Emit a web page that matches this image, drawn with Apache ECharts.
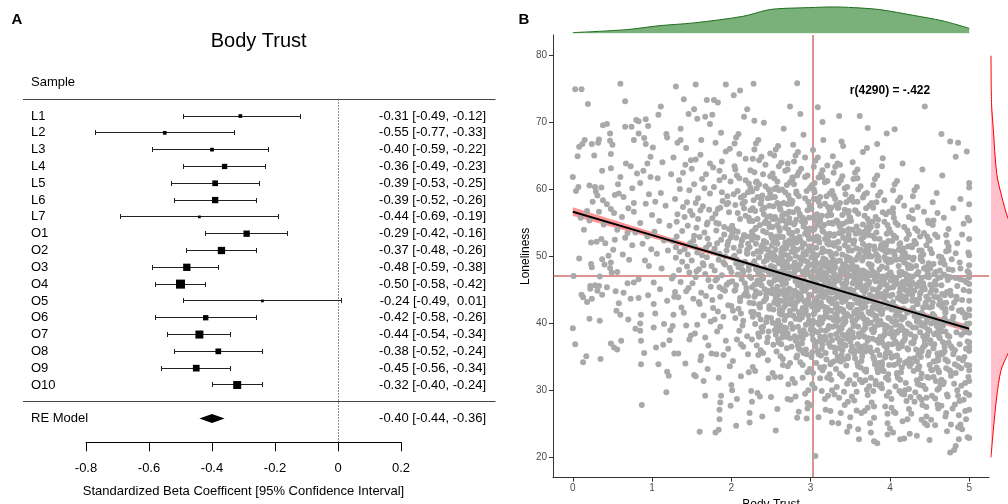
<!DOCTYPE html>
<html>
<head>
<meta charset="utf-8">
<title>Body Trust</title>
<script src="https://cdn.jsdelivr.net/npm/echarts@6/dist/echarts.min.js"></script>
<style>
  html, body { margin: 0; padding: 0; background: #fff; }
  #chart { width: 1008px; height: 504px; }
</style>
</head>
<body>
<div id="chart"></div>
<script>
// ===== A: forest plot =====
const studyNames = ['L1', 'L2', 'L3', 'L4', 'L5', 'L6', 'L7', 'O1', 'O2', 'O3', 'O4', 'O5', 'O6', 'O7', 'O8', 'O9', 'O10'];
const studyEst = [-0.31, -0.55, -0.40, -0.36, -0.39, -0.39, -0.44, -0.29, -0.37, -0.48, -0.50, -0.24, -0.42, -0.44, -0.38, -0.45, -0.32];
const studyLower = [-0.49, -0.77, -0.59, -0.49, -0.53, -0.52, -0.69, -0.42, -0.48, -0.59, -0.58, -0.49, -0.58, -0.54, -0.52, -0.56, -0.40];
const studyUpper = [-0.12, -0.33, -0.22, -0.23, -0.25, -0.26, -0.19, -0.16, -0.26, -0.38, -0.42, 0.01, -0.26, -0.34, -0.24, -0.34, -0.24];
const studyWeight = [2.75, 2.75, 2.75, 4.75, 5.25, 6.0, 1.5, 6.0, 7.25, 7.25, 9.4, 1.5, 4.75, 8.1, 5.25, 6.5, 8.1];
const reModel = [-0.40, -0.44, -0.36]; // estimate, lower, upper
const forestTicks = [-0.8, -0.6, -0.4, -0.2, 0, 0.2];

// ===== B: scatter with marginal densities =====
const trustTicks = [0, 1, 2, 3, 4, 5];
const lonelinessTicks = [20, 30, 40, 50, 60, 70, 80];
const fitTrust = [0, 1, 2, 3, 4, 5];
const fitLoneliness = [56.7, 53.2, 49.7, 46.2, 42.7, 39.2];
const fitLower = [56.05, 52.75, 49.4, 45.95, 42.35, 38.65];
const fitUpper = [57.35, 53.65, 50.0, 46.45, 43.05, 39.75];
const meanTrust = 3.03;
const meanLoneliness = 47.15;
const trustDensX = [0, 0.68, 1.10, 1.52, 2.15, 2.44, 2.61, 2.99, 3.28, 3.54, 3.87, 4.29, 4.67, 5.0];
const trustDens = [0.010, 0.055, 0.115, 0.155, 0.255, 0.345, 0.370, 0.385, 0.395, 0.385, 0.355, 0.270, 0.185, 0.075];
const lonelinessDensY = [20, 24, 29, 33, 35.5, 38, 42, 46, 50, 53, 55.7, 59, 62.4, 69, 73, 80];
const lonelinessDens = [0, 0.0023, 0.0057, 0.0100, 0.0170, 0.0250, 0.0340, 0.0380, 0.0350, 0.0260, 0.0170, 0.0107, 0.0057, 0.0023, 0.0005, 0];

// body trust, loneliness (pairs; dense middle is thinned)
const trustLoneliness = [
  0.03,75.0, 0.11,75.0, 0.19,72.8, 0.00,61.9, 0.04,59.8, 0.06,65.0, 0.08,66.4, 0.12,66.8, 0.15,67.4, 0.24,66.8,
  0.27,65.1, 0.32,67.0, 0.33,67.5, 0.38,69.6, 0.43,69.8, 0.47,68.4, 0.47,67.3, 0.50,66.7, 0.48,65.3, 0.60,75.8,
  0.66,73.2, 0.66,69.4, 0.74,69.4, 0.80,70.4, 0.83,70.2, 0.92,70.5, 0.95,69.5, 0.77,67.4, 0.83,68.4, 0.90,67.7,
  0.92,66.8, 0.98,64.9, 0.37,62.8, 0.36,60.3, 0.28,60.4, 0.21,60.6, 0.38,58.4, 0.48,57.1, 0.57,60.8, 0.58,59.4,
  0.64,58.9, 0.75,60.2, 0.77,58.0, 0.85,61.0, 0.89,62.8, 0.94,63.9, 0.98,61.9, 0.81,62.4, 0.73,63.5, 0.67,63.9,
  0.60,61.9, 0.48,63.2, 0.25,58.2, 0.18,56.8, 0.10,55.8, 0.21,55.4, 0.14,54.0, 0.33,56.7, 0.39,54.8, 0.52,56.5,
  0.62,55.9, 0.56,54.0, 0.69,53.5, 0.77,56.7, 0.85,55.0, 1.00,56.2, 1.04,58.2, 1.11,59.5, 1.11,72.4, 1.08,71.2,
  1.18,68.3, 1.19,67.8,
  0.00,39.3, 0.03,36.9, 0.13,34.2, 0.17,35.1, 0.35,34.7, 0.34,40.4, 0.21,40.7, 0.13,43.9, 0.18,43.2, 0.22,45.2,
  0.24,43.7, 0.31,44.9, 0.33,45.6, 0.37,44.3, 0.43,45.4, 0.34,47.0, 0.24,48.4, 0.01,47.1, 0.48,49.1, 0.49,47.6,
  0.56,47.7, 0.54,44.8, 0.55,41.9, 0.58,43.0, 0.60,41.3, 0.48,37.0, 0.52,36.4, 0.56,36.1, 0.61,37.4, 0.73,43.7,
  0.77,46.1, 0.83,46.6, 0.83,43.8, 0.86,41.3, 0.85,40.0, 0.85,38.9, 0.86,37.4, 0.86,33.9, 0.87,27.8, 0.96,48.6,
  1.02,46.1, 1.02,42.9, 1.02,39.4, 1.04,41.5, 1.08,33.9, 1.14,36.8, 1.15,39.9, 1.19,32.8, 1.18,29.7, 1.21,32.2,
  1.23,39.0, 1.27,41.3, 1.28,44.0, 1.25,46.7, 1.28,35.5, 1.33,35.5, 1.42,34.0, 1.43,39.7, 1.47,37.6,
  0.07,60.4, 0.29,59.7, 0.31,59.1, 0.43,57.8, 0.53,59.2, 0.08,49.7, 0.23,52.1, 0.30,52.2, 0.36,52.6, 0.41,52.0,
  0.53,52.5, 0.51,51.0, 0.45,50.1, 0.37,49.6, 0.23,48.9, 0.40,48.8, 0.47,48.3, 0.22,45.6, 0.28,45.7, 0.11,44.3,
  0.63,50.3, 0.66,52.8, 0.71,49.5, 0.75,51.7, 0.79,53.6, 0.88,51.9, 0.91,49.4, 0.94,53.0, 0.99,51.1, 1.03,53.7,
  1.06,50.4, 1.09,55.3, 1.12,48.2, 1.15,52.4, 1.17,57.6, 1.20,50.9, 1.22,54.6, 1.24,62.3, 1.13,64.1, 1.07,61.7,
  1.01,66.3, 0.96,59.3, 0.70,57.2, 0.92,57.9, 0.69,46.0, 0.64,44.6, 0.95,44.2, 1.10,45.1, 1.19,43.4, 0.90,35.6,
  1.05,36.4, 1.22,37.5, 0.79,39.2, 0.70,40.6,
  1.30,75.4, 1.40,73.5, 1.46,71.3, 1.53,72.0, 1.55,75.7, 1.69,73.4, 1.67,70.9, 1.78,73.4, 1.93,75.7, 2.11,74.8,
  2.03,74.1, 2.28,75.8, 2.20,72.0, 2.29,70.3, 2.83,75.9, 2.74,72.4, 2.87,71.3, 3.09,72.3, 3.15,70.1, 3.36,71.0,
  3.62,71.0, 3.72,69.2, 4.06,69.0, 3.96,68.4, 4.44,72.4, 4.65,68.3, 4.76,67.2, 4.86,67.0, 4.83,64.9, 4.97,65.7,
  3.84,66.8, 3.71,66.2, 3.39,67.2, 1.32,67.0, 1.36,67.4,
  1.53,32.3, 1.55,32.1, 1.61,34.5, 1.60,23.8, 1.65,31.4, 1.67,29.2, 1.70,33.2, 1.75,35.5, 1.81,35.4, 1.80,23.7,
  1.84,24.1, 1.85,25.7, 1.85,27.1, 1.86,28.2, 1.87,29.2, 1.99,27.7, 2.01,30.0, 2.06,24.7, 2.07,28.7, 2.12,32.1,
  2.23,26.6, 2.23,25.2, 2.26,28.3, 2.33,29.6, 2.36,29.1, 2.39,26.1, 2.56,24.0, 2.58,27.2, 2.71,28.7, 2.83,25.9,
  2.95,25.8, 2.96,28.1, 2.96,27.3, 3.06,20.2, 3.19,27.1, 3.27,25.2, 3.38,26.6, 3.46,23.8, 3.49,24.6, 3.61,22.7,
  3.76,23.7, 3.80,22.4, 3.84,22.1, 3.97,25.1, 4.04,23.7, 4.13,22.7, 4.18,22.8, 4.34,23.2, 4.44,25.1, 4.46,26.1,
  4.76,20.7, 4.81,21.1, 4.83,21.7, 4.87,22.7, 4.91,24.2, 4.98,23.0, 4.89,24.9, 4.77,24.9,
  1.26,52.3, 1.27,47.1, 1.29,58.6, 1.30,49.8, 1.31,55.2, 1.33,43.9, 1.34,61.4, 1.35,50.7, 1.36,46.2, 1.38,53.8,
  1.39,57.4, 1.40,41.6, 1.41,51.1, 1.42,63.7, 1.44,48.5, 1.45,54.6, 1.46,45.3, 1.47,59.9, 1.48,52.0, 1.49,38.2,
  1.27,64.8, 1.29,44.7, 1.32,56.3, 1.35,60.1, 1.37,42.4, 1.38,49.2, 1.41,55.9, 1.43,66.2, 1.45,50.3, 1.47,47.6,
  1.26,39.6, 1.31,53.0, 1.34,48.0, 1.39,62.5, 1.43,44.8, 1.48,56.8, 1.36,69.1, 1.44,58.1, 1.30,51.4, 1.49,64.4,
  1.50,49.4, 1.51,56.2, 1.52,43.7, 1.53,60.8, 1.54,51.5, 1.55,46.9, 1.56,54.3, 1.57,39.8, 1.58,58.7, 1.59,48.1,
  1.60,52.9, 1.61,65.2, 1.62,44.6, 1.63,50.2, 1.64,57.5, 1.65,41.2, 1.66,53.6, 1.67,47.4, 1.68,62.3, 1.69,49.9,
  1.70,55.1, 1.71,36.7, 1.72,51.8, 1.73,59.4, 1.74,45.5, 1.50,63.1, 1.52,52.4, 1.54,38.5, 1.56,47.8, 1.58,55.6,
  1.60,42.9, 1.62,67.4, 1.64,49.0, 1.66,60.2, 1.68,44.1, 1.70,52.7, 1.72,57.0, 1.74,40.3, 1.51,46.0, 1.53,53.1,
  1.55,64.5, 1.57,50.6, 1.59,43.2, 1.61,56.9, 1.63,61.6, 1.65,48.7, 1.67,37.9, 1.69,54.8, 1.71,46.5, 1.73,69.8,
  1.55,58.0, 1.62,35.1, 1.68,51.3, 1.73,63.9, 1.57,70.6,
  1.75,48.6, 1.76,55.7, 1.77,42.3, 1.78,60.4, 1.79,51.2, 1.80,46.4, 1.81,53.9, 1.82,38.8, 1.83,57.1, 1.84,49.5,
  1.85,62.8, 1.86,44.0, 1.87,52.5, 1.88,47.2, 1.89,58.3, 1.90,41.0, 1.91,54.4, 1.92,50.0, 1.93,65.7, 1.94,45.8,
  1.95,51.7, 1.96,36.2, 1.97,56.6, 1.98,48.3, 1.99,61.2, 1.76,43.5, 1.78,50.8, 1.80,67.0, 1.82,46.7, 1.84,54.9,
  1.86,39.5, 1.88,59.6, 1.90,49.1, 1.92,44.9, 1.94,57.8, 1.96,52.2, 1.98,33.6, 1.77,63.3, 1.79,47.9, 1.81,55.0,
  1.83,41.8, 1.85,50.4, 1.87,68.5, 1.89,45.1, 1.91,53.3, 1.93,37.4, 1.95,59.0, 1.97,46.1, 1.99,52.8, 1.80,56.4,
  1.84,31.9, 1.88,64.2, 1.92,48.8, 1.96,42.7, 1.76,71.2, 1.82,52.0, 1.86,57.3, 1.90,35.3, 1.94,50.9, 1.98,66.1,
  1.79,40.6, 1.85,45.4, 1.91,61.9, 1.97,54.1, 1.83,73.0,
  2.00,47.7, 2.01,54.6, 2.02,41.9, 2.03,59.3, 2.04,50.1, 2.05,45.0, 2.06,52.8, 2.07,37.6, 2.08,56.5, 2.09,48.4,
  2.10,61.7, 2.11,43.3, 2.12,51.6, 2.13,46.6, 2.14,57.9, 2.15,40.4, 2.16,53.2, 2.17,49.2, 2.18,64.6, 2.19,44.7,
  2.20,50.6, 2.21,35.4, 2.22,55.8, 2.23,47.0, 2.24,60.3, 2.00,42.6, 2.02,49.8, 2.04,66.9, 2.06,45.7, 2.08,53.7,
  2.10,38.9, 2.12,58.8, 2.14,48.0, 2.16,44.2, 2.18,56.1, 2.20,51.0, 2.22,32.7, 2.24,62.9, 2.01,46.3, 2.03,54.0,
  2.05,40.8, 2.07,49.5, 2.09,68.3, 2.11,43.8, 2.13,52.3, 2.15,36.5, 2.17,58.2, 2.19,45.3, 2.21,51.9, 2.23,55.3,
  2.00,30.8, 2.04,63.5, 2.08,47.3, 2.12,41.5, 2.16,70.9, 2.20,50.4, 2.24,56.9, 2.02,34.4, 2.06,49.0, 2.10,65.3,
  2.14,39.7, 2.18,44.5, 2.22,60.9, 2.01,53.4, 2.05,57.7, 2.09,42.2, 2.13,48.9, 2.17,46.0, 2.21,59.6, 2.03,51.3,
  2.07,62.1, 2.11,55.6, 2.15,47.6, 2.19,53.0, 2.23,43.1, 2.06,67.8, 2.14,52.6, 2.20,38.1, 2.10,50.8, 2.18,61.4,
  2.04,44.9, 2.12,36.9, 2.22,48.6, 2.16,57.2, 2.08,59.8,
  2.25,46.8, 2.26,53.7, 2.27,41.0, 2.28,58.4, 2.29,49.3, 2.30,44.2, 2.31,51.9, 2.32,36.7, 2.33,55.6, 2.34,47.5,
  2.35,60.8, 2.36,42.4, 2.37,50.7, 2.38,45.7, 2.39,57.0, 2.40,39.5, 2.41,52.3, 2.42,48.3, 2.43,63.7, 2.44,43.8,
  2.45,49.7, 2.46,34.5, 2.47,54.9, 2.48,46.1, 2.49,59.4, 2.25,41.7, 2.27,48.9, 2.29,66.0, 2.31,44.8, 2.33,52.8,
  2.35,38.0, 2.37,57.9, 2.39,47.1, 2.41,43.3, 2.43,55.2, 2.45,50.1, 2.47,31.8, 2.49,62.0, 2.26,45.4, 2.28,53.1,
  2.30,39.9, 2.32,48.6, 2.34,67.4, 2.36,42.9, 2.38,51.4, 2.40,35.6, 2.42,57.3, 2.44,44.4, 2.46,51.0, 2.48,54.4,
  2.25,29.9, 2.29,62.6, 2.33,46.4, 2.37,40.6, 2.41,70.0, 2.45,49.5, 2.49,56.0, 2.27,33.5, 2.31,48.1, 2.35,64.4,
  2.39,38.8, 2.43,43.6, 2.47,60.0, 2.26,52.5, 2.30,56.8, 2.34,41.3, 2.38,48.0, 2.42,45.1, 2.46,58.7, 2.28,50.4,
  2.32,61.2, 2.36,54.7, 2.40,46.7, 2.44,52.1, 2.48,42.2, 2.31,66.9, 2.39,51.7, 2.45,37.2, 2.35,49.9, 2.43,60.5,
  2.29,44.0, 2.37,36.0, 2.47,47.7, 2.41,56.3, 2.33,58.9, 2.27,55.3, 2.34,38.5, 2.40,53.8, 2.46,44.9, 2.49,50.6,
  2.26,59.7, 2.32,45.9, 2.38,64.9, 2.44,40.2, 2.48,57.6, 2.30,32.9, 2.36,47.9, 2.42,51.2, 2.28,43.0, 2.45,55.9,
  2.50,45.9, 2.51,52.8, 2.52,40.1, 2.53,57.5, 2.54,48.4, 2.55,43.3, 2.56,51.0, 2.57,35.8, 2.58,54.7, 2.59,46.6,
  2.60,59.9, 2.61,41.5, 2.62,49.8, 2.63,44.8, 2.64,56.1, 2.65,38.6, 2.66,51.4, 2.67,47.4, 2.68,62.8, 2.69,42.9,
  2.70,48.8, 2.71,33.6, 2.72,54.0, 2.73,45.2, 2.74,58.5, 2.50,40.8, 2.52,48.0, 2.54,65.1, 2.56,43.9, 2.58,51.9,
  2.60,37.1, 2.62,57.0, 2.64,46.2, 2.66,42.4, 2.68,54.3, 2.70,49.2, 2.72,30.9, 2.74,61.1, 2.51,44.5, 2.53,52.2,
  2.55,39.0, 2.57,47.7, 2.59,66.5, 2.61,42.0, 2.63,50.5, 2.65,34.7, 2.67,56.4, 2.69,43.5, 2.71,50.1, 2.73,53.5,
  2.50,29.0, 2.54,61.7, 2.58,45.5, 2.62,39.7, 2.66,69.1, 2.70,48.6, 2.74,55.1, 2.52,32.6, 2.56,47.2, 2.60,63.5,
  2.64,37.9, 2.68,42.7, 2.72,59.1, 2.51,51.6, 2.55,55.9, 2.59,40.4, 2.63,47.1, 2.67,44.2, 2.71,57.8, 2.53,49.5,
  2.57,60.3, 2.61,53.8, 2.65,45.8, 2.69,51.2, 2.73,41.3, 2.56,66.0, 2.64,50.8, 2.70,36.3, 2.60,49.0, 2.68,59.6,
  2.54,43.1, 2.62,35.1, 2.72,46.8, 2.66,55.4, 2.58,58.0, 2.52,54.4, 2.59,37.6, 2.65,52.9, 2.71,44.0, 2.74,49.7,
  2.51,58.8, 2.57,45.0, 2.63,64.0, 2.69,39.3, 2.73,56.7, 2.55,32.0, 2.61,47.0, 2.67,50.3, 2.53,42.1, 2.70,55.0,
  2.50,53.2, 2.56,38.3, 2.62,44.6, 2.68,48.2, 2.74,34.1, 2.52,62.4, 2.58,49.4, 2.64,41.8, 2.70,60.7, 2.66,46.5,
  2.55,50.0, 2.61,57.3, 2.67,39.4, 2.73,52.4, 2.59,44.3, 2.65,48.5, 2.71,63.0, 2.57,53.0, 2.63,36.9, 2.69,46.0,
  2.75,45.0, 2.76,51.9, 2.77,39.2, 2.78,56.6, 2.79,47.5, 2.80,42.4, 2.81,50.1, 2.82,34.9, 2.83,53.8, 2.84,45.7,
  2.85,59.0, 2.86,40.6, 2.87,48.9, 2.88,43.9, 2.89,55.2, 2.90,37.7, 2.91,50.5, 2.92,46.5, 2.93,61.9, 2.94,42.0,
  2.95,47.9, 2.96,32.7, 2.97,53.1, 2.98,44.3, 2.99,57.6, 2.75,39.9, 2.77,47.1, 2.79,64.2, 2.81,43.0, 2.83,51.0,
  2.85,36.2, 2.87,56.1, 2.89,45.3, 2.91,41.5, 2.93,53.4, 2.95,48.3, 2.97,30.0, 2.99,60.2, 2.76,43.6, 2.78,51.3,
  2.80,38.1, 2.82,46.8, 2.84,65.6, 2.86,41.1, 2.88,49.6, 2.90,33.8, 2.92,55.5, 2.94,42.6, 2.96,49.2, 2.98,52.6,
  2.75,28.6, 2.79,60.8, 2.83,44.6, 2.87,38.8, 2.91,68.2, 2.95,47.7, 2.99,54.2, 2.77,31.7, 2.81,46.3, 2.85,62.6,
  2.89,37.0, 2.93,41.8, 2.97,58.2, 2.76,50.7, 2.80,55.0, 2.84,39.5, 2.88,46.2, 2.92,43.3, 2.96,56.9, 2.78,48.6,
  2.82,59.4, 2.86,52.9, 2.90,44.9, 2.94,50.3, 2.98,40.4, 2.81,65.1, 2.89,49.9, 2.95,35.4, 2.85,48.1, 2.93,58.7,
  2.79,42.2, 2.87,34.2, 2.97,45.9, 2.91,54.5, 2.83,57.1, 2.77,53.5, 2.84,36.7, 2.90,52.0, 2.96,43.1, 2.99,48.8,
  2.76,57.9, 2.82,44.1, 2.88,63.1, 2.94,38.4, 2.98,55.8, 2.80,31.1, 2.86,46.1, 2.92,49.4, 2.78,41.2, 2.95,54.1,
  2.75,52.3, 2.81,37.4, 2.87,43.7, 2.93,47.3, 2.99,33.2, 2.77,61.5, 2.83,48.5, 2.89,40.9, 2.95,59.8, 2.91,45.6,
  2.80,49.1, 2.86,56.4, 2.92,38.5, 2.98,51.5, 2.84,43.4, 2.90,47.6, 2.96,62.1, 2.82,52.1, 2.88,36.0, 2.94,45.1,
  2.78,66.7, 2.85,26.8, 2.97,40.0, 2.79,54.8, 2.93,29.5,
  3.00,44.2, 3.01,51.1, 3.02,38.4, 3.03,55.8, 3.04,46.7, 3.05,41.6, 3.06,49.3, 3.07,34.1, 3.08,53.0, 3.09,44.9,
  3.10,58.2, 3.11,39.8, 3.12,48.1, 3.13,43.1, 3.14,54.4, 3.15,36.9, 3.16,49.7, 3.17,45.7, 3.18,61.1, 3.19,41.2,
  3.20,47.1, 3.21,31.9, 3.22,52.3, 3.23,43.5, 3.24,56.8, 3.00,39.1, 3.02,46.3, 3.04,63.4, 3.06,42.2, 3.08,50.2,
  3.10,35.4, 3.12,55.3, 3.14,44.5, 3.16,40.7, 3.18,52.6, 3.20,47.5, 3.22,29.2, 3.24,59.4, 3.01,42.8, 3.03,50.5,
  3.05,37.3, 3.07,46.0, 3.09,64.8, 3.11,40.3, 3.13,48.8, 3.15,33.0, 3.17,54.7, 3.19,41.8, 3.21,48.4, 3.23,51.8,
  3.00,27.8, 3.04,60.0, 3.08,43.8, 3.12,38.0, 3.16,67.4, 3.20,46.9, 3.24,53.4, 3.02,30.9, 3.06,45.5, 3.10,61.8,
  3.14,36.2, 3.18,41.0, 3.22,57.4, 3.01,49.9, 3.05,54.2, 3.09,38.7, 3.13,45.4, 3.17,42.5, 3.21,56.1, 3.03,47.8,
  3.07,58.6, 3.11,52.1, 3.15,44.1, 3.19,49.5, 3.23,39.6, 3.06,64.3, 3.14,49.1, 3.20,34.6, 3.10,47.3, 3.18,57.9,
  3.04,41.4, 3.12,33.4, 3.22,45.1, 3.16,53.7, 3.08,56.3, 3.02,52.7, 3.09,35.9, 3.15,51.2, 3.21,42.3, 3.24,48.0,
  3.01,57.1, 3.07,43.3, 3.13,62.3, 3.19,37.6, 3.23,55.0, 3.05,30.3, 3.11,45.3, 3.17,48.6, 3.03,40.4, 3.20,53.3,
  3.00,51.5, 3.06,36.6, 3.12,42.9, 3.18,46.5, 3.24,32.4, 3.02,60.7, 3.08,47.7, 3.14,40.1, 3.20,59.0, 3.16,44.8,
  3.05,48.3, 3.11,55.6, 3.17,37.7, 3.23,50.7, 3.09,42.6, 3.15,46.8, 3.21,61.3, 3.07,51.3, 3.13,35.2, 3.19,44.3,
  3.03,65.9, 3.10,26.0, 3.22,39.2, 3.04,54.0, 3.18,28.7, 3.01,35.0, 3.12,58.9, 3.24,43.7, 3.06,50.0, 3.15,62.9,
  3.25,43.3, 3.26,50.2, 3.27,37.5, 3.28,54.9, 3.29,45.8, 3.30,40.7, 3.31,48.4, 3.32,33.2, 3.33,52.1, 3.34,44.0,
  3.35,57.3, 3.36,38.9, 3.37,47.2, 3.38,42.2, 3.39,53.5, 3.40,36.0, 3.41,48.8, 3.42,44.8, 3.43,60.2, 3.44,40.3,
  3.45,46.2, 3.46,31.0, 3.47,51.4, 3.48,42.6, 3.49,55.9, 3.25,38.2, 3.27,45.4, 3.29,62.5, 3.31,41.3, 3.33,49.3,
  3.35,34.5, 3.37,54.4, 3.39,43.6, 3.41,39.8, 3.43,51.7, 3.45,46.6, 3.47,28.3, 3.49,58.5, 3.26,41.9, 3.28,49.6,
  3.30,36.4, 3.32,45.1, 3.34,63.9, 3.36,39.4, 3.38,47.9, 3.40,32.1, 3.42,53.8, 3.44,40.9, 3.46,47.5, 3.48,50.9,
  3.25,26.9, 3.29,59.1, 3.33,42.9, 3.37,37.1, 3.41,66.5, 3.45,46.0, 3.49,52.5, 3.27,30.0, 3.31,44.6, 3.35,60.9,
  3.39,35.3, 3.43,40.1, 3.47,56.5, 3.26,49.0, 3.30,53.3, 3.34,37.8, 3.38,44.5, 3.42,41.6, 3.46,55.2, 3.28,46.9,
  3.32,57.7, 3.36,51.2, 3.40,43.2, 3.44,48.6, 3.48,38.7, 3.31,63.4, 3.39,48.2, 3.45,33.7, 3.35,46.4, 3.43,57.0,
  3.29,40.5, 3.37,32.5, 3.47,44.2, 3.41,52.8, 3.33,55.4, 3.27,51.8, 3.34,35.0, 3.40,50.3, 3.46,41.4, 3.49,47.1,
  3.26,56.2, 3.32,42.4, 3.38,61.4, 3.44,36.7, 3.48,54.1, 3.30,29.4, 3.36,44.4, 3.42,47.7, 3.28,39.5, 3.45,52.4,
  3.25,50.6, 3.31,35.7, 3.37,42.0, 3.43,45.6, 3.49,31.5, 3.27,59.8, 3.33,46.8, 3.39,39.2, 3.45,58.1, 3.41,43.9,
  3.30,47.4, 3.36,54.7, 3.42,36.8, 3.48,49.8, 3.34,41.7, 3.40,45.9, 3.46,60.4, 3.32,50.4, 3.38,34.3, 3.44,43.4,
  3.28,65.0, 3.35,25.1, 3.47,38.3, 3.29,53.1, 3.43,27.8, 3.26,34.1, 3.37,58.0, 3.49,42.8, 3.31,49.1, 3.40,62.0,
  3.50,42.4, 3.51,49.3, 3.52,36.6, 3.53,54.0, 3.54,44.9, 3.55,39.8, 3.56,47.5, 3.57,32.3, 3.58,51.2, 3.59,43.1,
  3.60,56.4, 3.61,38.0, 3.62,46.3, 3.63,41.3, 3.64,52.6, 3.65,35.1, 3.66,47.9, 3.67,43.9, 3.68,59.3, 3.69,39.4,
  3.70,45.3, 3.71,30.1, 3.72,50.5, 3.73,41.7, 3.74,55.0, 3.50,37.3, 3.52,44.5, 3.54,61.6, 3.56,40.4, 3.58,48.4,
  3.60,33.6, 3.62,53.5, 3.64,42.7, 3.66,38.9, 3.68,50.8, 3.70,45.7, 3.72,27.4, 3.74,57.6, 3.51,41.0, 3.53,48.7,
  3.55,35.5, 3.57,44.2, 3.59,63.0, 3.61,38.5, 3.63,47.0, 3.65,31.2, 3.67,52.9, 3.69,40.0, 3.71,46.6, 3.73,50.0,
  3.50,26.0, 3.54,58.2, 3.58,42.0, 3.62,36.2, 3.66,65.6, 3.70,45.1, 3.74,51.6, 3.52,29.1, 3.56,43.7, 3.60,60.0,
  3.64,34.4, 3.68,39.2, 3.72,55.6, 3.51,48.1, 3.55,52.4, 3.59,36.9, 3.63,43.6, 3.67,40.7, 3.71,54.3, 3.53,46.0,
  3.57,56.8, 3.61,50.3, 3.65,42.3, 3.69,47.7, 3.73,37.8, 3.56,62.5, 3.64,47.3, 3.70,32.8, 3.60,45.5, 3.68,56.1,
  3.54,39.6, 3.62,31.6, 3.72,43.3, 3.66,51.9, 3.58,54.5, 3.52,50.9, 3.59,34.1, 3.65,49.4, 3.71,40.5, 3.74,46.2,
  3.51,55.3, 3.57,41.5, 3.63,60.5, 3.69,35.8, 3.73,53.2, 3.55,28.5, 3.61,43.5, 3.67,46.8, 3.53,38.6, 3.70,51.5,
  3.50,49.7, 3.56,34.8, 3.62,41.1, 3.68,44.7, 3.74,30.6, 3.52,58.9, 3.58,45.9, 3.64,38.3, 3.70,57.2, 3.66,43.0,
  3.55,46.5, 3.61,53.8, 3.67,35.9, 3.73,48.9, 3.59,40.8, 3.65,45.0, 3.71,59.5, 3.57,49.5, 3.63,33.4, 3.69,42.5,
  3.53,64.1, 3.60,24.2, 3.72,37.4, 3.54,52.2, 3.68,26.9,
  3.75,41.5, 3.76,48.4, 3.77,35.7, 3.78,53.1, 3.79,44.0, 3.80,38.9, 3.81,46.6, 3.82,31.4, 3.83,50.3, 3.84,42.2,
  3.85,55.5, 3.86,37.1, 3.87,45.4, 3.88,40.4, 3.89,51.7, 3.90,34.2, 3.91,47.0, 3.92,43.0, 3.93,58.4, 3.94,38.5,
  3.95,44.4, 3.96,29.2, 3.97,49.6, 3.98,40.8, 3.99,54.1, 3.75,36.4, 3.77,43.6, 3.79,60.7, 3.81,39.5, 3.83,47.5,
  3.85,32.7, 3.87,52.6, 3.89,41.8, 3.91,38.0, 3.93,49.9, 3.95,44.8, 3.97,26.5, 3.99,56.7, 3.76,40.1, 3.78,47.8,
  3.80,34.6, 3.82,43.3, 3.84,62.1, 3.86,37.6, 3.88,46.1, 3.90,30.3, 3.92,52.0, 3.94,39.1, 3.96,45.7, 3.98,49.1,
  3.75,25.1, 3.79,57.3, 3.83,41.1, 3.87,35.3, 3.91,64.7, 3.95,44.2, 3.99,50.7, 3.77,28.2, 3.81,42.8, 3.85,59.1,
  3.89,33.5, 3.93,38.3, 3.97,54.7, 3.76,47.2, 3.80,51.5, 3.84,36.0, 3.88,42.7, 3.92,39.8, 3.96,53.4, 3.78,45.1,
  3.82,55.9, 3.86,49.4, 3.90,41.4, 3.94,46.8, 3.98,36.9, 3.81,61.6, 3.89,46.4, 3.95,31.9, 3.85,44.6, 3.93,55.2,
  3.79,38.7, 3.87,30.7, 3.97,42.4, 3.91,51.0, 3.83,53.6, 3.77,50.0, 3.84,33.2, 3.90,48.5, 3.96,39.6, 3.99,45.3,
  3.76,54.4, 3.82,40.6, 3.88,59.6, 3.94,34.9, 3.98,52.3, 3.80,27.6, 3.86,42.6, 3.92,45.9, 3.78,37.7, 3.95,50.6,
  3.75,48.8, 3.81,33.9, 3.87,40.2, 3.93,43.8, 3.99,29.7, 3.77,58.0, 3.83,45.0, 3.89,37.4, 3.95,56.3, 3.91,42.1,
  3.85,47.1, 3.90,63.5, 3.97,23.4, 3.79,29.9, 3.88,51.2,
  4.00,40.7, 4.01,47.6, 4.02,34.9, 4.03,52.3, 4.04,43.2, 4.05,38.1, 4.06,45.8, 4.07,30.6, 4.08,49.5, 4.09,41.4,
  4.10,54.7, 4.11,36.3, 4.12,44.6, 4.13,39.6, 4.14,50.9, 4.15,33.4, 4.16,46.2, 4.17,42.2, 4.18,57.6, 4.19,37.7,
  4.20,43.6, 4.21,28.4, 4.22,48.8, 4.23,40.0, 4.24,53.3, 4.00,35.6, 4.02,42.8, 4.04,59.9, 4.06,38.7, 4.08,46.7,
  4.10,31.9, 4.12,51.8, 4.14,41.0, 4.16,37.2, 4.18,49.1, 4.20,44.0, 4.22,25.7, 4.24,55.9, 4.01,39.3, 4.03,47.0,
  4.05,33.8, 4.07,42.5, 4.09,61.3, 4.11,36.8, 4.13,45.3, 4.15,29.5, 4.17,51.2, 4.19,38.3, 4.21,44.9, 4.23,48.3,
  4.00,24.3, 4.04,56.5, 4.08,40.3, 4.12,34.5, 4.16,63.9, 4.20,43.4, 4.24,49.9, 4.02,27.4, 4.06,42.0, 4.10,58.3,
  4.14,32.7, 4.18,37.5, 4.22,53.9, 4.01,46.4, 4.05,50.7, 4.09,35.2, 4.13,41.9, 4.17,39.0, 4.21,52.6, 4.03,44.3,
  4.07,55.1, 4.11,48.6, 4.15,40.6, 4.19,46.0, 4.23,36.1, 4.06,60.8, 4.14,45.6, 4.20,31.1, 4.10,43.8, 4.18,54.4,
  4.04,37.9, 4.12,29.9, 4.22,41.6, 4.16,50.2, 4.08,52.8, 4.02,49.2, 4.09,32.4, 4.15,47.7, 4.21,38.8, 4.24,44.5,
  4.01,53.6, 4.07,39.8, 4.13,58.8, 4.19,34.1, 4.23,51.5, 4.05,26.8, 4.11,41.8, 4.17,45.1, 4.03,36.9, 4.20,49.8,
  4.25,39.8, 4.26,46.7, 4.27,34.0, 4.28,51.4, 4.29,42.3, 4.30,37.2, 4.31,44.9, 4.32,29.7, 4.33,48.6, 4.34,40.5,
  4.35,53.8, 4.36,35.4, 4.37,43.7, 4.38,38.7, 4.39,50.0, 4.40,32.5, 4.41,45.3, 4.42,41.3, 4.43,56.7, 4.44,36.8,
  4.45,42.7, 4.46,27.5, 4.47,47.9, 4.48,39.1, 4.49,52.4, 4.25,34.7, 4.27,41.9, 4.29,59.0, 4.31,37.8, 4.33,45.8,
  4.35,31.0, 4.37,50.9, 4.39,40.1, 4.41,36.3, 4.43,48.2, 4.45,43.1, 4.47,24.8, 4.49,55.0, 4.26,38.4, 4.28,46.1,
  4.30,32.9, 4.32,41.6, 4.34,60.4, 4.36,35.9, 4.38,44.4, 4.40,28.6, 4.42,50.3, 4.44,37.4, 4.46,44.0, 4.48,47.4,
  4.25,23.5, 4.29,55.6, 4.33,39.4, 4.37,33.6, 4.41,63.0, 4.45,42.5, 4.49,49.0, 4.27,26.5, 4.31,41.1, 4.35,57.4,
  4.39,31.8, 4.43,36.6, 4.47,53.0, 4.26,45.5, 4.30,49.8, 4.34,34.3, 4.38,41.0, 4.42,38.1, 4.46,51.7, 4.28,43.4,
  4.32,54.2, 4.36,47.7, 4.40,39.7, 4.44,45.1, 4.48,35.2, 4.31,59.9, 4.39,44.7, 4.45,30.2, 4.35,42.9, 4.43,53.5,
  4.29,37.0, 4.37,29.0, 4.47,40.7, 4.41,49.3, 4.33,51.9, 4.27,48.3, 4.34,31.5, 4.40,46.8, 4.46,37.9, 4.49,43.6,
  4.50,38.9, 4.51,45.8, 4.52,33.1, 4.53,50.5, 4.54,41.4, 4.55,36.3, 4.56,44.0, 4.57,28.8, 4.58,47.7, 4.59,39.6,
  4.60,52.9, 4.61,34.5, 4.62,42.8, 4.63,37.8, 4.64,49.1, 4.65,31.6, 4.66,44.4, 4.67,40.4, 4.68,55.8, 4.69,35.9,
  4.70,41.8, 4.71,26.6, 4.72,47.0, 4.73,38.2, 4.74,51.5, 4.50,33.8, 4.52,41.0, 4.54,58.1, 4.56,36.9, 4.58,44.9,
  4.60,30.1, 4.62,50.0, 4.64,39.2, 4.66,35.4, 4.68,47.3, 4.70,42.2, 4.72,23.9, 4.74,54.1, 4.51,37.5, 4.53,45.2,
  4.55,32.0, 4.57,40.7, 4.59,59.5, 4.61,35.0, 4.63,43.5, 4.65,27.7, 4.67,49.4, 4.69,36.5, 4.71,43.1, 4.73,46.5,
  4.50,22.6, 4.54,54.7, 4.58,38.5, 4.62,32.7, 4.66,62.1, 4.70,41.6, 4.74,48.1, 4.52,25.6, 4.56,40.2, 4.60,56.5,
  4.64,30.9, 4.68,35.7, 4.72,52.1, 4.51,44.6, 4.55,48.9, 4.59,33.4, 4.63,40.1, 4.67,37.2, 4.71,50.8, 4.53,42.5,
  4.57,53.3, 4.61,46.8, 4.65,38.8, 4.69,44.2, 4.73,34.3,
  4.75,38.0, 4.76,44.9, 4.77,32.2, 4.78,49.6, 4.79,40.5, 4.80,35.4, 4.81,43.1, 4.82,27.9, 4.83,46.8, 4.84,38.7,
  4.85,52.0, 4.86,33.6, 4.87,41.9, 4.88,36.9, 4.89,48.2, 4.90,30.7, 4.91,43.5, 4.92,39.5, 4.93,54.9, 4.94,35.0,
  4.95,40.9, 4.96,25.7, 4.97,46.1, 4.98,37.3, 4.99,50.6, 4.76,32.9, 4.78,40.1, 4.80,57.2, 4.82,36.0, 4.84,44.0,
  4.86,29.2, 4.88,49.1, 4.90,38.3, 4.92,34.5, 4.94,46.4, 4.96,41.3, 4.98,55.8, 4.77,36.6, 4.83,39.8, 4.89,58.6,
  4.95,31.1, 4.85,45.6, 4.91,53.3, 4.79,48.0, 4.87,26.3,
  5.00,38.6, 5.00,44.8, 5.00,31.4, 5.00,50.2, 5.00,35.9, 5.00,42.1, 5.00,29.3, 5.00,47.5, 5.00,40.0, 5.00,55.4,
  5.00,33.7, 5.00,45.9, 5.00,37.2, 5.00,52.6, 5.00,27.1, 5.00,61.0, 5.00,43.4, 5.00,36.5, 5.00,48.7, 5.00,33.0,
  5.00,57.8, 5.00,41.2, 5.00,22.9, 5.00,46.9, 5.00,60.3,
  2.21,44.1, 2.27,57.2, 2.33,50.8, 2.38,39.4, 2.44,53.6, 2.49,47.3, 2.53,36.8, 2.58,61.2, 2.63,43.4, 2.68,52.1,
  2.72,46.9, 2.77,58.3, 2.81,40.7, 2.86,49.8, 2.91,35.6, 2.95,53.9, 3.00,47.0, 3.05,59.6, 3.09,42.1, 3.14,50.6,
  3.19,38.9, 3.23,46.3, 3.28,55.1, 3.33,41.0, 3.37,49.4, 3.42,34.6, 3.46,52.7, 3.51,44.5, 3.56,56.9, 3.60,39.5,
  3.65,47.6, 3.70,33.1, 3.74,50.2, 3.79,43.2, 3.84,54.6, 3.88,38.0, 3.93,46.0, 3.98,32.4, 4.02,50.8, 4.07,41.1,
  2.23,51.4, 2.28,41.7, 2.32,60.2, 2.37,46.5, 2.42,55.0, 2.46,37.9, 2.51,50.0, 2.56,44.6, 2.60,54.3, 2.65,33.8,
  2.70,51.6, 2.74,41.9, 2.79,48.3, 2.84,57.0, 2.88,38.2, 2.93,44.9, 2.98,51.1, 3.02,35.7, 3.07,48.9, 3.12,57.6,
  3.16,43.9, 3.21,52.0, 3.26,31.6, 3.30,46.1, 3.35,40.4, 3.40,56.2, 3.44,45.3, 3.49,37.7, 3.54,51.9, 3.58,29.8,
  3.63,45.8, 3.68,53.7, 3.72,40.0, 3.77,48.7, 3.82,30.9, 3.86,44.0, 3.91,56.6, 3.96,36.3, 4.00,47.5, 4.05,53.1,
  4.10,34.0, 4.14,43.5, 4.19,50.5, 4.24,30.2, 4.28,44.2, 4.33,36.1, 4.38,53.0, 4.42,42.4, 4.47,32.0, 4.51,48.2,
  4.56,38.4, 4.61,27.3, 4.65,45.7, 4.70,34.6, 4.74,50.9, 4.79,36.2, 4.84,43.6, 4.88,28.4, 4.93,45.0, 4.97,33.8,
  2.22,48.0, 2.26,37.6, 2.31,54.3, 2.36,44.5, 2.40,62.3, 2.45,40.9, 2.50,48.6, 2.55,58.9, 2.59,42.8, 2.64,49.5,
  2.69,38.0, 2.73,55.7, 2.78,44.2, 2.83,35.2, 2.87,52.4, 2.92,47.8, 2.97,41.2, 3.01,60.5, 3.06,44.9, 3.11,37.3,
  3.15,53.8, 3.20,41.7, 3.25,48.2, 3.29,34.3, 3.34,57.3, 3.39,45.0, 3.43,38.2, 3.48,48.4, 3.53,40.3, 3.57,53.4,
  3.62,35.9, 3.67,49.9, 3.71,43.6, 3.76,31.9, 3.81,52.7, 3.85,40.0, 3.90,46.7, 3.95,35.5, 3.99,42.8, 4.04,57.2,
  4.09,38.6, 4.13,47.2, 4.18,29.4, 4.23,45.9, 4.27,51.6, 4.32,38.0, 4.37,46.1, 4.41,27.8, 4.46,40.2, 4.50,52.4,
  4.55,34.3, 4.60,43.9, 4.64,35.6, 4.69,48.8, 4.73,29.1, 4.78,42.3, 4.83,50.5, 4.87,34.8, 4.92,41.6, 4.96,29.6,
  2.24,53.0, 2.29,45.8, 2.34,35.3, 2.39,59.1, 2.43,48.0, 2.48,42.6, 2.52,55.6, 2.57,39.5, 2.62,47.7, 2.66,58.0,
  2.71,44.6, 2.76,36.5, 2.80,52.7, 2.85,45.9, 2.90,55.8, 2.94,39.8, 2.99,45.5, 3.03,37.6, 3.08,54.7, 3.13,46.6,
  3.17,33.5, 3.22,49.1, 3.27,43.0, 3.31,58.6, 3.36,36.3, 3.41,45.2, 3.45,50.0, 3.50,39.0, 3.55,48.0, 3.59,58.2,
  3.64,41.4, 3.69,36.7, 3.73,45.8, 3.78,55.2, 3.83,37.5, 3.87,48.1, 3.92,32.9, 3.97,50.9, 4.01,44.1, 4.06,35.1,
  4.11,51.0, 4.15,39.4, 4.20,47.4, 4.25,33.6, 4.29,49.5, 4.34,42.9, 4.39,35.0, 4.43,45.4, 4.48,55.4, 4.52,37.0,
  4.57,46.3, 4.62,30.3, 4.66,42.4, 4.71,53.2, 4.75,33.0, 4.80,41.0, 4.85,30.0, 4.89,46.6, 4.94,38.7, 4.98,47.8,
  2.30,54.1, 2.35,42.7, 2.41,49.2, 2.47,38.8, 2.54,46.4, 2.61,52.9, 2.67,40.5, 2.73,48.4, 2.80,44.9, 2.86,37.9,
  2.92,51.9, 2.98,46.0, 3.04,39.0, 3.10,52.8, 3.17,46.4, 3.23,37.0, 3.29,48.1, 3.35,52.2, 3.41,42.0, 3.47,35.1,
  3.53,47.2, 3.59,42.0, 3.66,54.8, 3.72,36.0, 3.78,42.4, 3.84,47.3, 3.90,37.2, 3.96,48.3, 4.03,40.3, 4.09,46.0,
  4.15,36.6, 4.21,46.6, 4.27,37.1, 4.34,47.4, 4.40,35.8, 4.46,47.0, 4.52,40.0, 4.58,34.4, 4.64,46.9, 4.70,38.8,
  4.77,44.2, 4.83,32.6, 4.90,42.0, 4.96,36.2, 3.02,42.5, 3.13,39.0, 3.26,44.6, 3.38,47.6, 3.49,44.0, 3.61,46.9,
  3.03,32.6, 3.14,29.9, 3.25,33.9, 3.36,28.9, 3.47,34.8, 3.58,27.0, 3.69,31.5, 3.80,25.9, 3.91,33.0, 4.02,28.7,
  4.13,31.6, 4.24,27.2, 4.35,33.3, 4.46,28.9, 4.57,24.8, 4.68,31.2, 4.79,27.3, 4.90,33.3, 4.95,26.9, 4.72,29.4,
  2.05,63.0, 2.16,59.1, 2.27,64.6, 2.38,58.5, 2.49,65.4, 2.60,57.8, 2.71,63.9, 2.82,59.7, 2.93,64.8, 3.04,58.6,
  3.15,61.9, 3.26,57.3, 3.37,63.7, 3.48,56.8, 3.59,61.7, 1.96,58.0, 1.85,61.4, 2.31,61.1, 2.54,60.1, 2.77,61.8,
  2.52,45.1, 2.57,52.6, 2.61,38.9, 2.66,47.9, 2.70,56.4, 2.75,42.9, 2.79,50.9, 2.84,37.0, 2.88,46.0, 2.93,55.1,
  2.97,43.6, 3.01,39.9, 3.06,52.4, 3.10,44.0, 3.15,49.0, 3.19,35.6, 3.24,45.9, 3.28,52.0, 3.32,39.7, 3.37,46.7,
  3.41,54.9, 3.46,37.7, 3.50,45.1, 3.55,41.7, 3.59,49.9, 3.64,36.5, 3.68,45.2, 3.73,53.9, 3.77,39.1, 3.82,46.3,
  3.86,34.1, 3.91,43.9, 3.95,51.7, 4.00,38.5, 4.04,45.4, 4.09,32.6, 4.13,49.6, 4.18,40.9, 4.22,36.3, 4.27,44.8,
  4.31,52.3, 4.36,33.2, 4.40,41.6, 4.45,48.4, 4.49,35.7, 4.54,43.1, 4.58,31.4, 4.63,47.9, 4.67,39.7, 4.72,44.7,
  2.53,50.3, 2.58,40.0, 2.62,55.4, 2.67,45.0, 2.71,38.5, 2.76,53.2, 2.80,46.9, 2.85,41.7, 2.89,51.3, 2.94,36.1,
  2.98,48.7, 3.03,43.0, 3.07,55.4, 3.12,40.9, 3.16,47.6, 3.21,44.6, 3.25,36.5, 3.30,51.6, 3.34,44.7, 3.39,37.4,
  3.43,48.1, 3.48,53.3, 3.52,42.8, 3.57,36.0, 3.61,47.9, 3.66,41.0, 3.70,50.6, 3.75,44.3, 3.79,35.0, 3.84,49.4,
  3.88,41.9, 3.93,36.7, 3.97,47.2, 4.02,42.1, 4.06,50.2, 4.11,38.9, 4.15,44.1, 4.20,34.2, 4.24,47.1, 4.29,39.4,
  4.33,43.5, 4.38,30.8, 4.42,46.0, 4.47,38.3, 4.51,51.1, 4.56,41.1, 4.60,35.5, 4.65,49.9, 4.69,40.8, 4.74,37.1,
  2.55,47.1, 2.60,43.4, 2.64,51.2, 2.69,41.1, 2.73,47.5, 2.78,39.4, 2.82,55.5, 2.87,44.3, 2.91,39.0, 2.96,47.6,
  3.00,53.9, 3.05,46.1, 3.09,40.1, 3.14,56.1, 3.18,38.0, 3.23,53.1, 3.27,47.8, 3.32,38.4, 3.36,53.5, 3.41,40.7,
  3.45,44.1, 3.50,55.8, 3.54,37.9, 3.59,45.5, 3.63,51.0, 3.68,33.0, 3.72,47.5, 3.77,41.7, 3.81,51.0, 3.86,39.8,
  3.90,44.4, 3.95,49.4, 3.99,33.8, 4.04,46.5, 4.08,37.0, 4.13,52.0, 4.17,43.3, 4.22,38.5, 4.26,48.6, 4.31,34.8,
  4.35,45.6, 4.40,50.9, 4.44,39.5, 4.49,46.9, 4.53,33.0, 4.58,45.8, 4.62,38.0, 4.67,43.0, 4.71,33.3, 4.76,46.9,
  2.56,55.6, 2.63,41.3, 2.68,49.0, 2.74,37.8, 2.80,47.8, 2.85,52.8, 2.90,42.3, 2.96,50.8, 3.02,39.8, 3.08,46.9,
  3.13,42.6, 3.18,50.8, 3.24,40.9, 3.30,43.7, 3.35,55.0, 3.40,38.3, 3.46,49.4, 3.51,35.9, 3.57,47.0, 3.62,43.8,
  3.68,38.0, 3.73,51.0, 3.79,41.3, 3.85,50.0, 3.90,33.7, 3.96,43.1, 4.01,49.5, 4.07,37.3, 4.12,47.7, 4.18,45.2,
  4.23,34.4, 4.29,47.0, 4.34,40.3, 4.39,49.6, 4.45,36.8, 4.50,42.4, 4.56,47.4, 4.61,38.9, 4.67,30.9, 4.72,40.3,
  2.64,60.0, 2.83,62.1, 3.05,61.0, 3.21,63.6, 3.44,59.3, 3.66,58.8, 3.83,58.1, 4.05,55.8, 4.28,56.9, 4.55,55.4,
  3.12,31.8, 3.33,30.5, 3.55,30.9, 3.72,29.3, 3.89,30.9, 4.07,26.6, 4.19,30.0, 4.31,28.3, 4.42,30.7, 4.53,29.2,
  4.61,33.0, 4.70,26.1, 4.81,31.0, 4.86,24.5, 4.93,28.6, 4.99,32.0, 4.60,27.9, 4.40,25.6, 4.16,25.4, 3.94,27.6,
  2.62,32.0, 2.81,29.1, 2.90,31.9, 3.42,29.8, 3.64,26.6, 3.98,31.6, 4.26,29.0, 4.49,31.9, 4.82,33.9, 4.97,39.9
];

// ---------- layout bits ----------
const FONT = '"Liberation Sans", Arial, sans-serif';
const forestYMin = -2.41, forestYMax = 19.5;   // metafor-style rows
const headerRow = 19, lineTopRow = 18, lineBottomRow = 0, reRow = -1;
const scatterXMin = -0.25, scatterXMax = 5.25, scatterYMin = 16.95, scatterYMax = 83.1;

const fmt = v => (v < 0 ? '' : ' ') + v.toFixed(2);
const leftLabels = new Map();
const rightLabels = new Map();
leftLabels.set(headerRow, 'Sample');
leftLabels.set(reRow, 'RE Model');
studyNames.forEach((n, i) => {
  leftLabels.set(17 - i, n);
  rightLabels.set(17 - i, fmt(studyEst[i]) + ' [' + fmt(studyLower[i]) + ', ' + fmt(studyUpper[i]) + ']');
});
rightLabels.set(reRow, fmt(reModel[0]) + ' [' + fmt(reModel[1]) + ', ' + fmt(reModel[2]) + ']');

const forestData = studyEst.map((e, i) => [e, 17 - i, studyLower[i], studyUpper[i], 1.5 + 0.8 * studyWeight[i]]);
const scatterData = [];
for (let i = 0; i < trustLoneliness.length; i += 2) {
  scatterData.push([trustLoneliness[i], trustLoneliness[i + 1]]);
}

const crisp = v => Math.round(v - 0.5) + 0.5;

const chart = echarts.init(document.getElementById('chart'));
chart.setOption({
  animation: false,
  backgroundColor: '#fff',
  textStyle: { fontFamily: FONT },
  graphic: [
    { type: 'text', x: 17, y: 20, style: { text: 'A', font: 'bold 15px ' + FONT, fill: '#000', align: 'center', verticalAlign: 'middle' } },
    { type: 'text', x: 524, y: 20, style: { text: 'B', font: 'bold 15px ' + FONT, fill: '#000', align: 'center', verticalAlign: 'middle' } },
    { type: 'text', x: 258.7, y: 41.5, style: { text: 'Body Trust', font: '20px ' + FONT, fill: '#000', align: 'center', verticalAlign: 'middle' } },
    { type: 'text', x: 890, y: 91, style: { text: 'r(4290) = -.422', font: 'bold 12px ' + FONT, fill: '#000', align: 'center', verticalAlign: 'middle' } }
  ],
  grid: [
    { left: 86, top: 74.0, width: 315, height: 368.3, outerBoundsMode: 'none' },
    { left: 553, top: 35, width: 436, height: 442.7, outerBoundsMode: 'none' },
    { left: 553, top: 6.6, width: 436, height: 26.7, outerBoundsMode: 'none' },
    { left: 991, top: 35, width: 40, height: 442.7, outerBoundsMode: 'none' }
  ],
  xAxis: [
    {
      gridIndex: 0, type: 'value', min: -0.8, max: 0.2, interval: 0.2,
      name: 'Standardized Beta Coefficent [95% Confidence Interval]',
      nameLocation: 'middle', nameGap: 43,
      nameTextStyle: { fontSize: 13, color: '#000' },
      axisLine: { show: true, onZero: false, lineStyle: { color: '#000', width: 1 } },
      axisTick: { show: true, length: 9, inside: false, lineStyle: { color: '#000' } },
      axisLabel: { fontSize: 13, color: '#000', margin: 20 },
      splitLine: { show: false }
    },
    {
      gridIndex: 1, type: 'value', min: scatterXMin, max: scatterXMax,
      name: 'Body Trust', nameLocation: 'middle', nameGap: 19,
      nameTextStyle: { fontSize: 12, color: '#000' },
      axisLine: { show: true, onZero: false, lineStyle: { color: '#333', width: 1 } },
      axisTick: { show: true, length: 4, customValues: trustTicks, lineStyle: { color: '#333' } },
      axisLabel: { fontSize: 10, color: '#4d4d4d', margin: 6, customValues: trustTicks },
      splitLine: { show: false }
    },
    { gridIndex: 2, type: 'value', min: scatterXMin, max: scatterXMax, show: false },
    { gridIndex: 3, type: 'value', min: 0, max: 0.04, show: false }
  ],
  yAxis: [
    {
      gridIndex: 0, type: 'value', min: forestYMin, max: forestYMax, position: 'left',
      axisLine: { show: false, onZero: false }, axisTick: { show: false }, splitLine: { show: false },
      axisLabel: {
        customValues: Array.from(leftLabels.keys()),
        formatter: v => leftLabels.get(v) || '',
        align: 'left', margin: 55, fontSize: 13, color: '#000'
      }
    },
    {
      gridIndex: 0, type: 'value', min: forestYMin, max: forestYMax, position: 'right',
      axisLine: { show: false, onZero: false }, axisTick: { show: false }, splitLine: { show: false },
      axisLabel: {
        customValues: Array.from(rightLabels.keys()),
        formatter: v => rightLabels.get(v) || '',
        align: 'right', margin: 85, fontSize: 13, color: '#000'
      }
    },
    {
      gridIndex: 1, type: 'value', min: scatterYMin, max: scatterYMax,
      name: 'Loneliness', nameLocation: 'middle', nameGap: 20, nameRotate: 90,
      nameTextStyle: { fontSize: 12, color: '#000' },
      axisLine: { show: true, onZero: false, lineStyle: { color: '#333', width: 1 } },
      axisTick: { show: true, length: 4, customValues: lonelinessTicks, lineStyle: { color: '#333' } },
      axisLabel: { fontSize: 10, color: '#4d4d4d', margin: 6, customValues: lonelinessTicks },
      splitLine: { show: false }
    },
    { gridIndex: 2, type: 'value', min: 0, max: 0.4, show: false },
    { gridIndex: 3, type: 'value', min: scatterYMin, max: scatterYMax, show: false, axisLine: { onZero: false } }
  ],
  series: [
    // guides of the forest plot: dotted zero line and the two rules
    {
      type: 'custom', xAxisIndex: 0, yAxisIndex: 0, silent: true, clip: false,
      data: [[0]],
      renderItem: (params, api) => {
        const zTop = api.coord([0, lineTopRow]);
        const zBot = api.coord([0, forestYMin]);
        const rules = [lineTopRow, lineBottomRow].map(r => {
          const a = api.coord([-1.0, r]), b = api.coord([0.5, r]);
          return { type: 'line', shape: { x1: a[0], y1: crisp(a[1]), x2: b[0], y2: crisp(b[1]) }, style: { stroke: '#444', lineWidth: 1 } };
        });
        return {
          type: 'group',
          children: rules.concat([{
            type: 'line',
            shape: { x1: crisp(zTop[0]), y1: zTop[1], x2: crisp(zBot[0]), y2: zBot[1] },
            style: { stroke: '#666', lineWidth: 1, lineDash: [1.5, 1.5] }
          }])
        };
      }
    },
    // study estimates with confidence intervals
    {
      type: 'custom', xAxisIndex: 0, yAxisIndex: 0, silent: true, clip: false,
      encode: { x: [0, 2, 3], y: 1 },
      data: forestData,
      renderItem: (params, api) => {
        const row = api.value(1);
        const lo = api.coord([api.value(2), row]);
        const hi = api.coord([api.value(3), row]);
        const est = api.coord([api.value(0), row]);
        const s = api.value(4);
        const y = crisp(lo[1]);
        const ls = { stroke: '#222', lineWidth: 1 };
        return {
          type: 'group',
          children: [
            { type: 'line', shape: { x1: lo[0], y1: y, x2: hi[0], y2: y }, style: ls },
            { type: 'line', shape: { x1: crisp(lo[0]), y1: y - 2.5, x2: crisp(lo[0]), y2: y + 2.5 }, style: ls },
            { type: 'line', shape: { x1: crisp(hi[0]), y1: y - 2.5, x2: crisp(hi[0]), y2: y + 2.5 }, style: ls },
            { type: 'rect', shape: { x: est[0] - s / 2, y: est[1] - s / 2, width: s, height: s }, style: { fill: '#000' } }
          ]
        };
      }
    },
    // RE model diamond
    {
      type: 'custom', xAxisIndex: 0, yAxisIndex: 0, silent: true, clip: false,
      data: [[reModel[0], reRow, reModel[1], reModel[2]]],
      renderItem: (params, api) => {
        const row = api.value(1);
        const l = api.coord([api.value(2), row]);
        const r = api.coord([api.value(3), row]);
        const c = api.coord([api.value(0), row]);
        return {
          type: 'polygon',
          shape: { points: [l, [c[0], c[1] - 4.5], r, [c[0], c[1] + 4.5]] },
          style: { fill: '#000' }
        };
      }
    },
    // scatter
    {
      type: 'scatter', xAxisIndex: 1, yAxisIndex: 2, silent: true,
      symbolSize: 6,
      itemStyle: { color: '#a9a9a9', opacity: 1 },
      data: scatterData
    },
    // confidence band of the fit
    {
      type: 'custom', xAxisIndex: 1, yAxisIndex: 2, silent: true,
      data: [[fitTrust[0], fitLoneliness[0]]],
      renderItem: (params, api) => {
        const up = fitTrust.map((x, i) => api.coord([x, fitUpper[i]]));
        const dn = fitTrust.map((x, i) => api.coord([x, fitLower[i]])).reverse();
        return { type: 'polygon', shape: { points: up.concat(dn) }, style: { fill: 'rgba(255,0,0,0.42)' } };
      }
    },
    // fitted line
    {
      type: 'line', xAxisIndex: 1, yAxisIndex: 2, silent: true,
      symbol: 'none',
      lineStyle: { color: '#000', width: 2 },
      data: fitTrust.map((x, i) => [x, fitLoneliness[i]])
    },
    // mean lines
    {
      type: 'custom', xAxisIndex: 1, yAxisIndex: 2, silent: true, clip: false,
      data: [[meanTrust, meanLoneliness]],
      renderItem: (params, api) => {
        const v0 = api.coord([api.value(0), scatterYMin]);
        const v1 = api.coord([api.value(0), scatterYMax]);
        const h0 = api.coord([scatterXMin, api.value(1)]);
        const h1 = api.coord([scatterXMax, api.value(1)]);
        const ls = { stroke: 'rgba(190,40,40,0.5)', lineWidth: 2 };
        const vx = Math.round(v0[0]), hy = Math.round(h0[1]);
        return {
          type: 'group',
          children: [
            { type: 'line', shape: { x1: vx, y1: v0[1], x2: vx, y2: v1[1] }, style: ls },
            { type: 'line', shape: { x1: h0[0], y1: hy, x2: h1[0], y2: hy }, style: ls }
          ]
        };
      }
    },
    // top marginal density
    {
      type: 'line', xAxisIndex: 2, yAxisIndex: 3, silent: true,
      symbol: 'none', smooth: 0.3,
      lineStyle: { color: '#1f6f1f', width: 1 },
      areaStyle: { color: '#7ab07a', opacity: 1 },
      data: trustDensX.map((x, i) => [x, trustDens[i]])
    },
    // right marginal density
    {
      type: 'custom', xAxisIndex: 3, yAxisIndex: 4, silent: true, clip: false,
      data: [[0, lonelinessDensY[0]]],
      renderItem: (params, api) => {
        const pts = lonelinessDensY.map((y, i) => api.coord([lonelinessDens[i], y]));
        return {
          type: 'group',
          children: [
            { type: 'polygon', shape: { points: pts }, style: { fill: '#ffc0cb' } },
            { type: 'polyline', shape: { points: pts, smooth: 0.3 }, style: { stroke: '#ff0000', lineWidth: 1, fill: null } }
          ]
        };
      }
    }
  ]
});
</script>
</body>
</html>
